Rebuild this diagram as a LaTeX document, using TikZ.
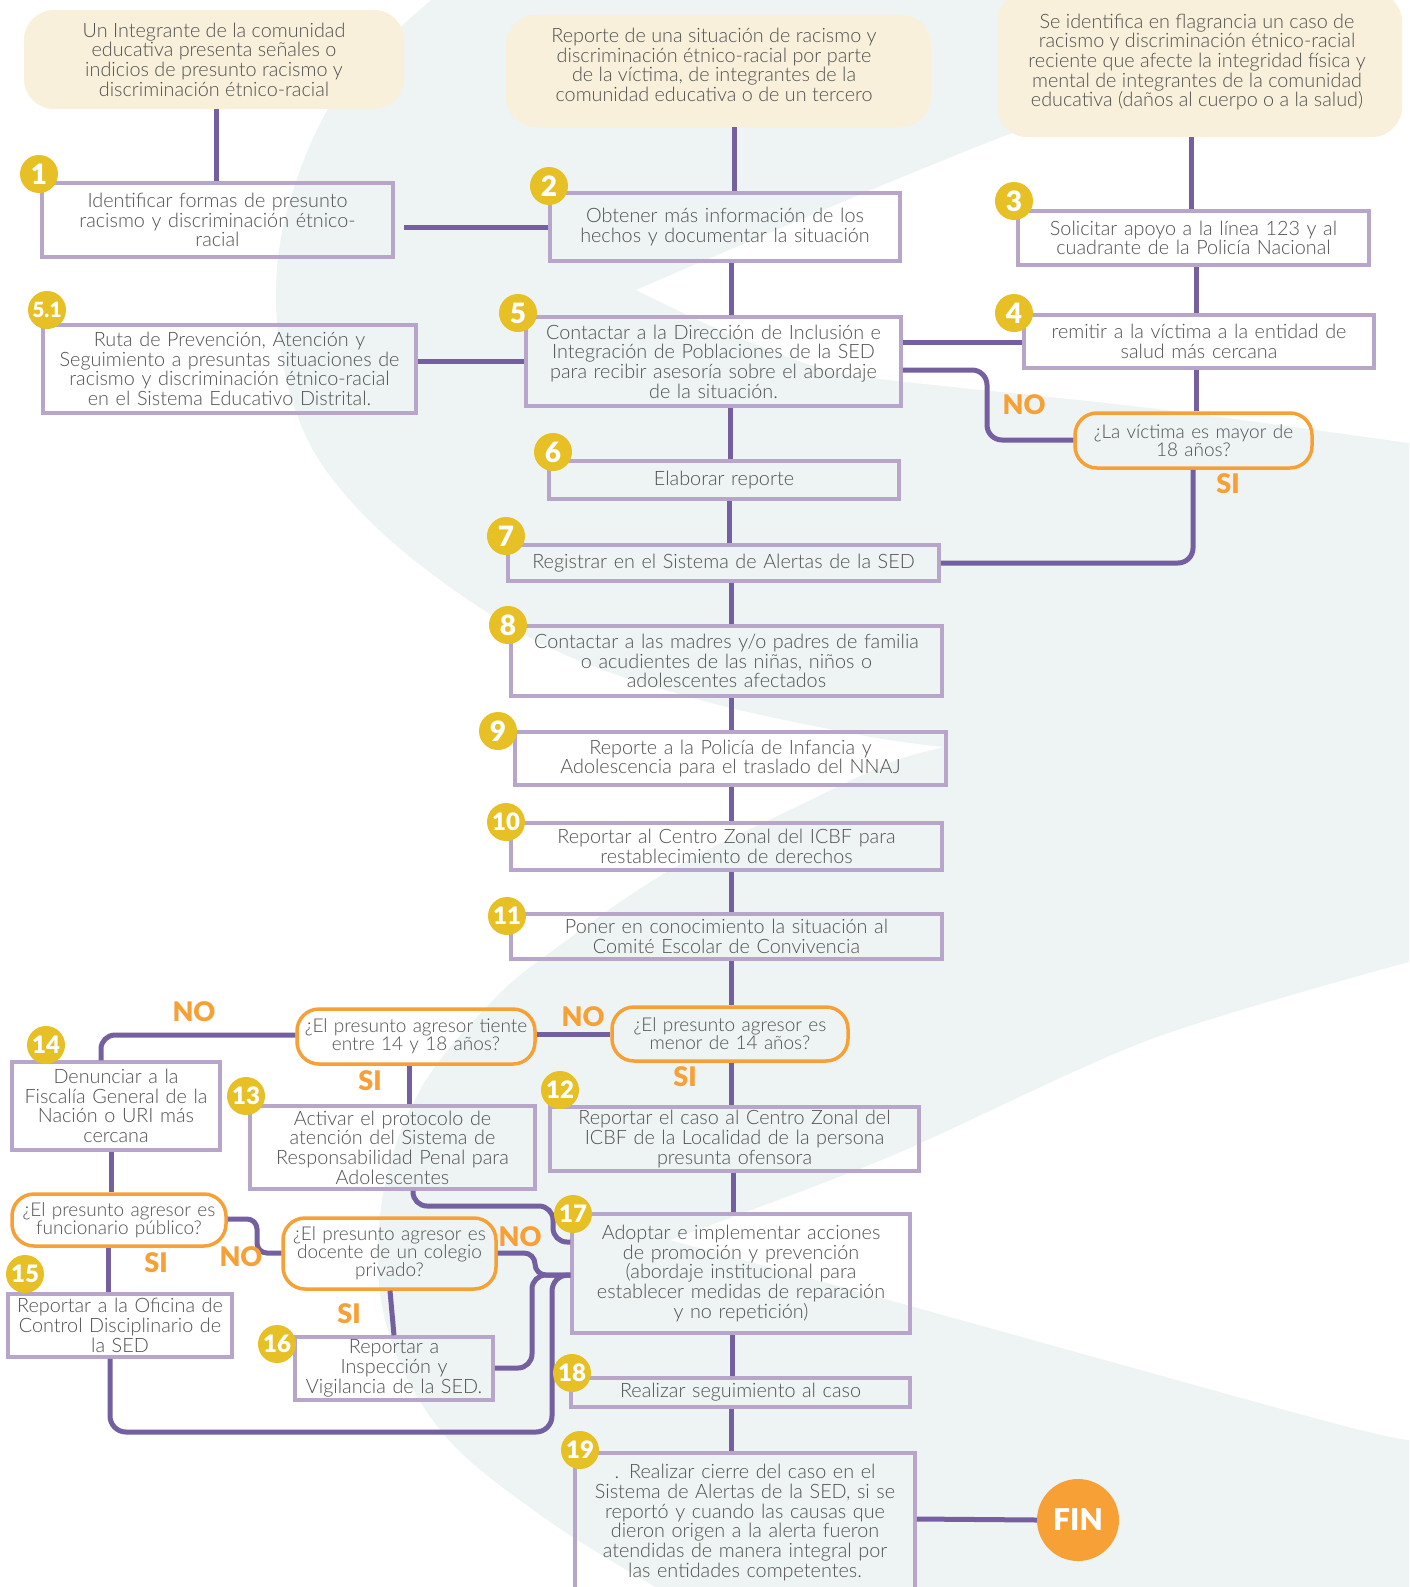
\documentclass[tikz,border=0pt]{standalone}
\usepackage{fontspec}
\setmainfont{Lato}[UprightFont={* Light}, BoldFont={* Bold}]
\newfontfamily\heavyfont{Lato Black}
\definecolor{bgp}{RGB}{238,244,243}
\definecolor{beige}{RGB}{248,240,218}
\definecolor{bc}{RGB}{183,166,201}
\definecolor{lc}{RGB}{116,96,160}
\definecolor{oc}{RGB}{247,160,53}
\definecolor{yc}{RGB}{230,192,36}
\definecolor{tc}{RGB}{80,80,80}
\newcommand\bxfont{\fontsize{19.8}{19.7}\selectfont}
\newcommand\dxfont{\fontsize{19}{18}\selectfont}
\begin{document}
\begin{tikzpicture}[x=1pt,y=-1pt,
  box/.style={draw=bc, line width=3.5pt, inner sep=0pt, align=center, text=tc, font=\bxfont},
  bub/.style={fill=beige, rounded corners=30pt, inner sep=0pt},
  btxt/.style={inner sep=0pt, align=center, text=tc, font=\bxfont},
  dec/.style={draw=oc, line width=3.5pt, rounded corners=22pt, inner sep=0pt, align=center, text=tc, font=\dxfont},
  ln/.style={draw=lc, line width=5pt},
  lab/.style={text=oc, inner sep=0pt, font=\heavyfont\fontsize{27}{27}\selectfont},
  badge/.style={circle, fill=yc, minimum size=38pt, inner sep=0pt, text=white, font=\heavyfont\fontsize{28}{28}\selectfont},
  badgeb/.style={badge, font=\heavyfont\fontsize{24}{24}\selectfont},
  badgec/.style={badge, font=\heavyfont\fontsize{21}{21}\selectfont}]
\useasboundingbox (0,0) rectangle (1409,1587);
\clip (0,0) rectangle (1409,1587);
% background
\fill[bgp] (0,0) rectangle (1409,1587);
\fill[white] (0,0) -- (431,0) -- plot[smooth, tension=0.6] coordinates {(431,0) (340,90) (290,200) (276,300) (292,400) (333,480) (420,565) (550,648) (700,700) (860,735) (944,747)} -- plot[smooth, tension=0.6] coordinates {(944,747) (889,763) (800,805) (670,870) (560,945) (493,1000) (420,1090) (382,1200) (385,1320) (440,1430) (540,1515) (655,1587)} -- (0,1587) -- cycle;
\fill[white] plot[smooth] coordinates {(636,290) (1002,137) (1395,0)} -- (1409,0) -- (1409,443) -- plot[smooth] coordinates {(1409,443) (1150,408) (889,380) (817,367) (720,330) (636,290)} -- cycle;
\fill[white] plot[smooth] coordinates {(670,1240) (889,1157) (1149,1040) (1409,962)} -- (1409,1440) -- plot[smooth] coordinates {(1409,1440) (1322,1420) (889,1300) (670,1240)} -- cycle;

% bubbles
\node[bub, minimum width=380pt, minimum height=99pt] (bub1) at (214,59.5) {};
\node[btxt] (t1) at (bub1.center) {Un Integrante de la comunidad\\educativa presenta señales o\\indicios de presunto racismo y\\discriminación étnico-racial};
\node[bub, minimum width=425pt, minimum height=112pt] (bub2) at (718.5,71) {};
\node[btxt] (t2) at (714,65) {Reporte de una situación de racismo y\\discriminación étnico-racial por parte\\de la víctima, de integrantes de la\\comunidad educativa o de un tercero};
\node[bub, minimum width=405pt, minimum height=145pt] (bub3) at (1199.5,64.5) {};
\node[btxt] (t3) at (1197,62) {Se identifica en flagrancia un caso de\\racismo y discriminación étnico-racial\\reciente que afecte la integridad física y\\mental de integrantes de la comunidad\\educativa (daños al cuerpo o a la salud)};

% boxes
\node[box, text width=351pt, minimum height=74pt] (box1) at (217.5,220) {Identificar formas de presunto\\racismo y discriminación étnico-\\racial};
\node[box, text width=350pt, minimum height=68pt] (box2) at (725,227) {Obtener más información de los\\hechos y documentar la situación};
\node[box, text width=351pt, minimum height=54pt] (box3) at (1193.5,238) {Solicitar apoyo a la línea 123 y al\\cuadrante de la Policía Nacional};
\node[box, text width=373pt, minimum height=88pt] (box51) at (229.5,369) {Ruta de Prevención, Atención y\\Seguimiento a presuntas situaciones de\\racismo y discriminación étnico-racial\\en el Sistema Educativo Distrital.};
\node[box, text width=375pt, minimum height=89pt] (box5) at (713.5,361.5) {Contactar a la Dirección de Inclusión e\\Integración de Poblaciones de la SED\\para recibir asesoría sobre el abordaje\\de la situación.};
\node[box, text width=350pt, minimum height=53pt] (box4) at (1199,341.5) {remitir a la víctima a la entidad de\\salud más cercana};
\node[dec, text width=237pt, minimum height=55pt] (d1) at (1193.5,440.5) {¿La víctima es mayor de\\18 años?};
\node[box, text width=350pt, minimum height=38pt] (box6) at (724,480) {Elaborar reporte};
\node[box, text width=431pt, minimum height=36pt] (box7) at (723.5,563) {Registrar en el Sistema de Alertas de la SED};
\node[box, text width=431pt, minimum height=70pt] (box8) at (726.5,661) {Contactar a las madres y/o padres de familia\\o acudientes de las niñas, niños o\\adolescentes afectados};
\node[box, text width=431pt, minimum height=53pt] (box9) at (730.5,758.5) {Reporte a la Policía de Infancia y\\Adolescencia para el traslado del NNAJ};
\node[box, text width=431pt, minimum height=47pt] (box10) at (726.5,846.5) {Reportar al Centro Zonal del ICBF para\\restablecimiento de derechos};
\node[box, text width=431pt, minimum height=45pt] (box11) at (726.5,936.5) {Poner en conocimiento la situación al\\Comité Escolar de Convivencia};
\node[dec, text width=236pt, minimum height=54pt] (d2) at (730,1034) {¿El presunto agresor es\\menor de 14 años?};
\node[dec, text width=238pt, minimum height=55pt] (d3) at (416,1036.5) {¿El presunto agresor tiente\\entre 14 y 18 años?};
\node[box, text width=369pt, minimum height=64pt] (box12) at (734.5,1139) {Reportar el caso al Centro Zonal del\\ICBF de la Localidad de la persona\\presunta ofensora};
\node[box, text width=285pt, minimum height=83pt] (box13) at (392.5,1147.5) {Activar el protocolo de\\atención del Sistema de\\Responsabilidad Penal para\\Adolescentes};
\node[box, text width=208pt, minimum height=88pt] (box14) at (116,1106) {Denunciar a la\\Fiscalía General de la\\Nación o URI más\\cercana};
\node[dec, text width=214pt, minimum height=52pt] (d4) at (119,1220) {¿El presunto agresor es\\funcionario público?};
\node[dec, text width=213pt, minimum height=71pt] (d5) at (389.5,1253.5) {¿El presunto agresor es\\docente de un colegio\\privado?};
\node[box, text width=224pt, minimum height=63pt] (box15) at (120,1325.5) {Reportar a la Oficina de\\Control Disciplinario de\\la SED};
\node[box, text width=198pt, minimum height=63pt] (box16) at (394,1368.5) {Reportar a\\Inspección y\\Vigilancia de la SED.};
\node[box, text width=338pt, minimum height=119pt] (box17) at (741,1273.5) {Adoptar e implementar acciones\\de promoción y prevención\\(abordaje institucional para\\establecer medidas de reparación\\y no repetición)};
\node[box, text width=339pt, minimum height=29pt] (box18) at (740.5,1392.5) {Realizar seguimiento al caso};
\node[box, text width=340pt, minimum height=139pt] (box19) at (745,1522.5) {. Realizar cierre del caso en el\\Sistema de Alertas de la SED, si se\\reportó y cuando las causas que\\dieron origen a la alerta fueron\\atendidas de manera integral por\\las entidades competentes.};
\node[circle, fill=oc, minimum size=82pt, inner sep=0pt, text=white, font=\heavyfont\fontsize{30}{30}\selectfont] (fin) at (1078,1520) {FIN};

% connectors
\draw[ln] (bub1.south -| 216,0) -- (box1.north -| 216,0);
\draw[ln] ([xshift=9pt]box1.east |- box2.west) -- (box2.west);
\draw[ln] (bub2.south -| 734,0) -- (box2.north -| 734,0);
\draw[ln] (box2.south -| 731,0) -- (box5.north -| 731,0);
\draw[ln] (bub3.south -| 1191,0) -- (box3.north -| 1191,0);
\draw[ln] (box3.south -| 1196,0) -- (box4.north -| 1196,0);
\draw[ln] (box4.south -| 1196,0) -- (d1.north -| 1196,0);
\draw[ln] (box5.east |- 0,342) -- (box4.west |- 0,342);
\draw[ln, rounded corners=15pt] (box5.east |- 0,370) -- (987,370) -- (987,440) -- (d1.west |- 0,440);
\draw[ln, rounded corners=15pt] (d1.south -| 1193,0) -- (1193,563) -- (box7.east |- 0,563);
\draw[ln] (box51.east |- 0,361) -- (box5.west |- 0,361);
\draw[ln] (box5.south -| 730,0) -- (box6.north -| 730,0);
\draw[ln] (box6.south -| 729,0) -- (box7.north -| 729,0);
\draw[ln] (box7.south -| 731,0) -- (box8.north -| 731,0);
\draw[ln] (box8.south -| 731,0) -- (box9.north -| 731,0);
\draw[ln] (box9.south -| 731,0) -- (box10.north -| 731,0);
\draw[ln] (box10.south -| 731,0) -- (box11.north -| 731,0);
\draw[ln] (box11.south -| 731,0) -- (d2.north -| 731,0);
\draw[ln] (d2.west |- 0,1034) -- (d3.east |- 0,1034);
\draw[ln, rounded corners=14pt] (d3.west |- 0,1035) -- (101,1035) -- (box14.north -| 101,0);
\draw[ln] (d3.south -| 409,0) -- (box13.north -| 409,0);
\draw[ln] (d2.south -| 731,0) -- (box12.north -| 731,0);
\draw[ln] (box12.south -| 733,0) -- (box17.north -| 733,0);
\draw[ln, rounded corners=14pt] (box13.south -| 413,0) -- (413,1206) -- (553,1206) -- (553,1242) -- (box17.west |- 0,1242);
\draw[ln, rounded corners=11pt] (d5.east |- 0,1253) -- (535,1253) -- (535,1275) -- (box17.west |- 0,1275);
\draw[ln, rounded corners=14pt] (box16.east |- 0,1368) -- (532,1368) -- (532,1275) -- (box17.west |- 0,1275);
\draw[ln, rounded corners=16pt] (box15.south -| 110,0) -- (110,1432) -- (552,1432) -- (552,1275) -- (box17.west |- 0,1275);
\draw[ln] (box14.south -| 111,0) -- (d4.north -| 111,0);
\draw[ln] (d4.south -| 108,0) -- (box15.north -| 108,0);
\draw[ln, rounded corners=10pt] (d4.east |- 0,1219) -- (257,1219) -- (257,1253) -- (d5.west |- 0,1253);
\draw[ln] (d5.south -| 390,0) -- (box16.north -| 394,0);
\draw[ln] (box17.south -| 732,0) -- (box18.north -| 732,0);
\draw[ln] (box18.south -| 731,0) -- (box19.north -| 731,0);
\draw[ln] (box19.east |- 0,1519) -- (fin.west);

% labels
\node[lab] (l1) at (1024,405) {NO};
\node[lab] (l2) at (1228,484) {SI};
\node[lab] (l3) at (194,1012) {NO};
\node[lab] (l4) at (370,1081) {SI};
\node[lab] (l5) at (583,1017) {NO};
\node[lab] (l6) at (685,1077) {SI};
\node[lab] (l7) at (156,1263) {SI};
\node[lab] (l8) at (241,1257) {NO};
\node[lab] (l9) at (520,1237) {NO};
\node[lab] (l10) at (349,1314) {SI};

% badges
\node[badge] (n1) at (39,174) {1};
\node[badge] (n2) at (549,186) {2};
\node[badge] (n3) at (1014,201) {3};
\node[badgec] (n51) at (47,310) {5.1};
\node[badge] (n5) at (518,313) {5};
\node[badge] (n4) at (1014,313) {4};
\node[badge] (n6) at (553,452) {6};
\node[badge] (n7) at (506,536) {7};
\node[badge] (n8) at (508,625) {8};
\node[badge] (n9) at (498,731) {9};
\node[badgeb] (n10) at (506,822) {10};
\node[badgeb] (n11) at (507,916) {11};
\node[badgeb] (n14) at (46,1045) {14};
\node[badgeb] (n13) at (246,1096) {13};
\node[badgeb] (n12) at (560,1090) {12};
\node[badgeb] (n17) at (573,1214) {17};
\node[badgeb] (n15) at (25,1274) {15};
\node[badgeb] (n16) at (277,1344) {16};
\node[badgeb] (n18) at (572,1373) {18};
\node[badgeb] (n19) at (580,1450) {19};
\end{tikzpicture}
\end{document}
